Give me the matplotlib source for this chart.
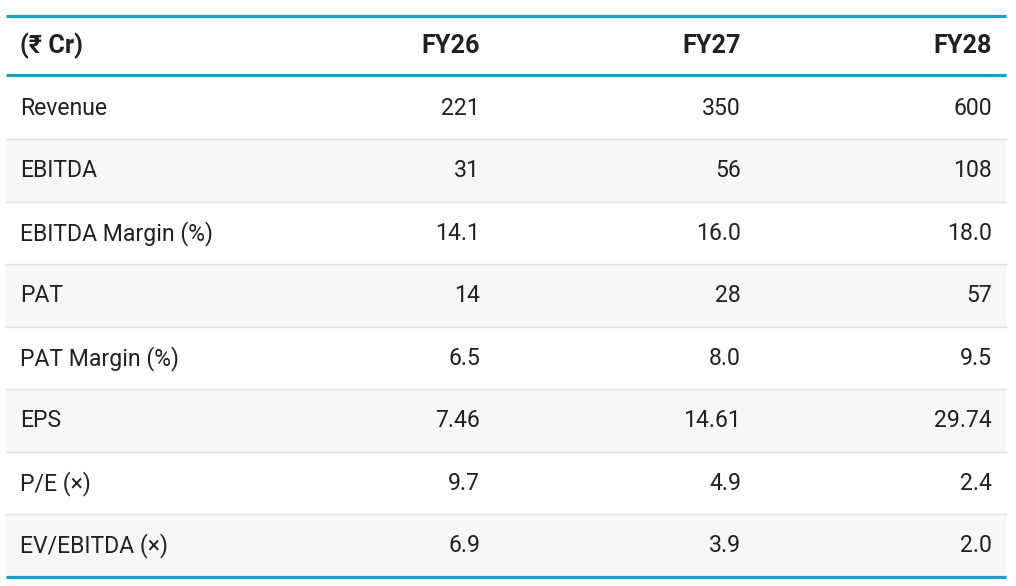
import matplotlib
matplotlib.use("Agg")
import matplotlib.pyplot as plt
from matplotlib.patches import Rectangle

plt.rcParams['font.family'] = ['Roboto', 'Noto Sans', 'DejaVu Sans']

header_label = "(₹ Cr)"
years = ["FY26", "FY27", "FY28"]
metrics = ["Revenue", "EBITDA", "EBITDA Margin (%)", "PAT", "PAT Margin (%)",
           "EPS", "P/E (×)", "EV/EBITDA (×)"]
fy26 = ["221", "31", "14.1", "14", "6.5", "7.46", "9.7", "6.9"]
fy27 = ["350", "56", "16.0", "28", "8.0", "14.61", "4.9", "3.9"]
fy28 = ["600", "108", "18.0", "57", "9.5", "29.74", "2.4", "2.0"]

W, H = 1016, 586
fig = plt.figure(figsize=(W / 100, H / 100), dpi=100)
ax = fig.add_axes([0, 0, 1, 1])
ax.set_xlim(0, W)
ax.set_ylim(H, 0)
ax.axis('off')

left, right = 6, 1006
top_line = 16
header_bottom = 75
row_h = 62.5
text_left = 20
col_right = [480, 741, 992]
accent = "#1a9fcc"
txt = "#212121"
fs = 16.6
fs_head = 18.2

# header
ax.text(text_left, (top_line + header_bottom) / 2 + 0.5, header_label, ha='left', va='center',
        fontsize=fs_head, fontweight='bold', color=txt)
for x, y in zip(col_right, years):
    ax.text(x, (top_line + header_bottom) / 2 + 0.5, y, ha='right', va='center',
            fontsize=fs_head, fontweight='bold', color=txt)

cols = [fy26, fy27, fy28]
for i, m in enumerate(metrics):
    y0 = header_bottom + 1.5 + i * row_h
    if i % 2 == 1:
        ax.add_patch(Rectangle((left, y0), right - left, row_h, facecolor="#f7f7f7",
                               edgecolor='none', zorder=0))
    if i < len(metrics) - 1:
        ax.plot([left, right], [y0 + row_h, y0 + row_h], color="#e2e2e2", lw=1.0, zorder=1)
    yc = y0 + row_h / 2 + 0.5
    ax.text(text_left, yc, m, ha='left', va='center', fontsize=fs, color=txt)
    for x, c in zip(col_right, cols):
        ax.text(x, yc, c[i], ha='right', va='center', fontsize=fs, color=txt)

bottom_line = header_bottom + 1.5 + len(metrics) * row_h
for yl in [top_line, header_bottom, bottom_line]:
    ax.plot([left, right], [yl, yl], color=accent, lw=2.3, solid_capstyle='butt', zorder=3)

fig.savefig("out.png", dpi=100)
